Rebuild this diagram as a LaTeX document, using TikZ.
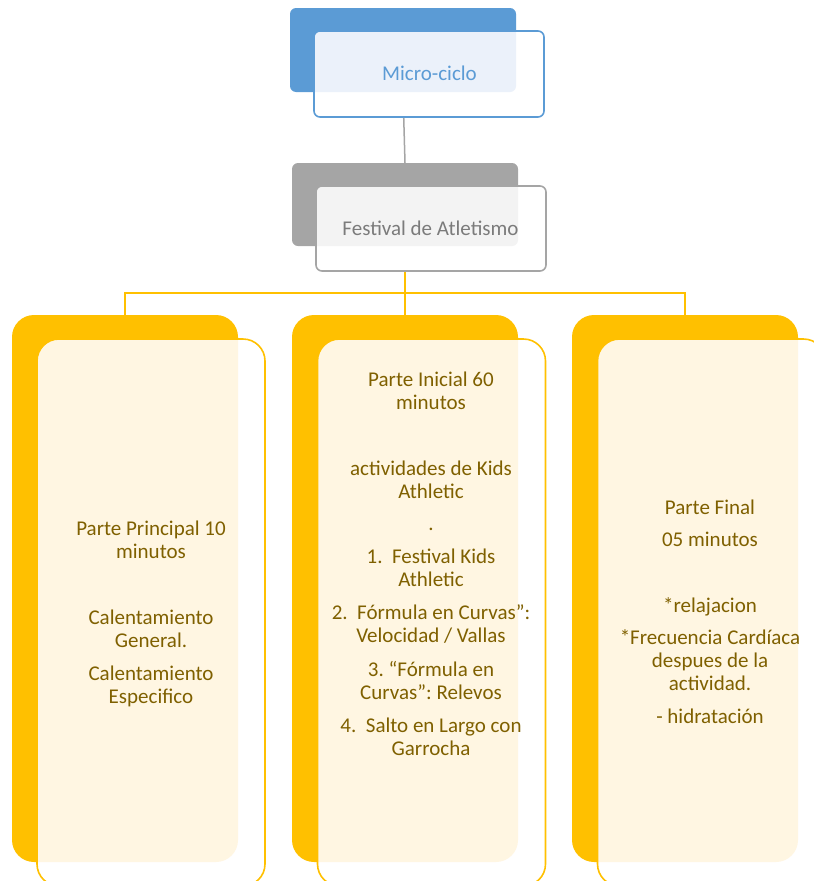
\documentclass[tikz,border=0pt]{standalone}
\usepackage{fontspec}
\setmainfont{Carlito}
\frenchspacing
\definecolor{mblue}{HTML}{5B9BD5}
\definecolor{mbluelight}{HTML}{EBF1FA}
\definecolor{mgray}{HTML}{A5A5A5}
\definecolor{mgraylight}{HTML}{F3F3F3}
\definecolor{mgraytext}{HTML}{7B7B7B}
\definecolor{myel}{HTML}{FFC000}
\definecolor{myellight}{HTML}{FFF6E2}
\definecolor{myeltext}{HTML}{7F6000}
\begin{document}
\begin{tikzpicture}[x=1pt,y=-1pt,
    box/.style={rectangle,inner sep=0pt,outer sep=0pt},
    smallbox/.style={box,rounded corners=6pt,minimum width=#1},
    tallbox/.style={box,rounded corners=22pt,minimum width=#1,minimum height=547pt},
    lbl/.style={anchor=base,inner sep=0pt,font=\fontsize{21}{23}\selectfont},
    gline/.style={draw=mgray,line width=1.5pt},
    yline/.style={draw=myel,line width=2pt}]
  \clip (0,0) rectangle (814,881);
  % back boxes
  \node[smallbox=226pt,minimum height=84pt,fill=mblue] (microB) at (403,50) {};
  \node[smallbox=226pt,minimum height=83pt,fill=mgray] (festB) at (405,204.5) {};
  \node[tallbox=226pt,fill=myel] (leftB) at (125,588.5) {};
  \node[tallbox=226pt,fill=myel] (midB) at (405,588.5) {};
  \node[tallbox=226pt,fill=myel] (rightB) at (685,588.5) {};
  % connectors
  \coordinate (fork) at (405,293);
  \draw[gline] (microB.south) -- (festB.north);
  \draw[yline] (festB.south) -- (fork) -| (leftB.north);
  \draw[yline] (fork) -- (midB.north);
  \draw[yline] (fork) -| (rightB.north);
  % front boxes
  \node[smallbox=230pt,minimum height=86pt,fill=white] (microF) at (429,74) {};
  \node[smallbox=230pt,minimum height=85pt,fill=white] (festF) at (431,228.5) {};
  \node[tallbox=228pt,fill=white] (leftF) at (151,612.5) {};
  \node[tallbox=228pt,fill=white] (midF) at (431.5,612.5) {};
  \node[tallbox=228pt,fill=white] (rightF) at (711.5,612.5) {};
  \foreach \n/\lc/\rad in {micro/mbluelight/6,fest/mgraylight/6,left/myellight/22,mid/myellight/22,right/myellight/22}{
    \begin{scope}
      \clip[rounded corners=\rad pt] (\n B.south west) rectangle (\n B.north east);
      \fill[\lc,rounded corners=\rad pt] (\n F.south west) rectangle (\n F.north east);
    \end{scope}
  }
  \foreach \n/\bc/\rad in {micro/mblue/6,fest/mgray/6,left/myel/22,mid/myel/22,right/myel/22}
    \draw[\bc,line width=1.6pt,rounded corners=\rad pt] (\n F.south west) rectangle (\n F.north east);
  % texts
  \node[lbl,text=mblue] (microT) at (429.5,80) {Micro-ciclo};
  \node[lbl,text=mgraytext] (festT) at (430.5,235) {Festival de Atletismo};
  \foreach \y/\t [count=\i] in {535/Parte Principal 10,558/minutos,624/Calentamiento,
      647/General.,680/Calentamiento,703/Especifico}
    \node[lbl,text=myeltext] (left\i) at (151,\y) {\t};
  \foreach \y/\t [count=\i] in {386/Parte Inicial 60,409/minutos,475/actividades de Kids,
      498/Athletic,530/.,563/1.\ \ Festival Kids,586/Athletic,619/2.\ \ Fórmula en Curvas”:,
      642/{Velocidad / Vallas},676/3. “Fórmula en,699/Curvas”: Relevos,
      732/4.\ \ Salto en Largo con,755/Garrocha}
    \node[lbl,text=myeltext] (mid\i) at (431,\y) {\t};
  \foreach \y/\t [count=\i] in {514/Parte Final,546/05 minutos,612/*relajacion,
      644/*Frecuencia Cardíaca,667/despues de la,690/actividad.,723/- hidratación}
    \node[lbl,text=myeltext] (right\i) at (710,\y) {\t};
\end{tikzpicture}
\end{document}
